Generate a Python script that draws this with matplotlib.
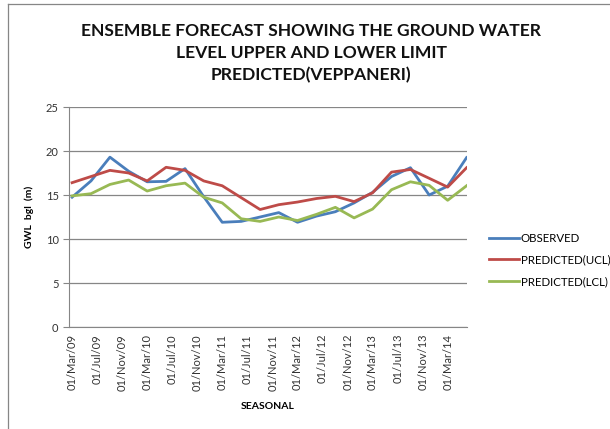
"""Ensemble forecast of ground water level (Veppaneri), Excel-style line chart"""

import pandas as pd
import matplotlib

matplotlib.use("Agg")
import matplotlib.pyplot as plt
import matplotlib.dates as mdates
from matplotlib.lines import Line2D

plt.rcParams["font.family"] = ["Lato", "DejaVu Sans"]

# seasonal readings, every 3 months from Mar 2009
dates = pd.date_range("2009-03-01", periods=22, freq="3MS")
observed = [14.75, 16.6, 19.3, 17.7, 16.5, 16.55, 18.0, 14.8, 11.9, 12.0, 12.5,
            13.0, 11.9, 12.6, 13.1, 14.1, 15.3, 17.1, 18.1, 15.0, 16.0, 19.25]
ucl = [16.4, 17.1, 17.8, 17.5, 16.6, 18.15, 17.8, 16.6, 16.05, 14.7, 13.35,
       13.9, 14.2, 14.6, 14.85, 14.25, 15.25, 17.6, 17.9, 16.9, 15.9, 18.1]
lcl = [14.9, 15.15, 16.2, 16.7, 15.45, 16.05, 16.35, 14.75, 14.1, 12.3, 12.0,
       12.5, 12.1, 12.8, 13.6, 12.4, 13.4, 15.6, 16.5, 16.1, 14.4, 16.05]

series = [
    ("OBSERVED", observed, "#4A7EBB"),
    ("PREDICTED(UCL)", ucl, "#BE4B48"),
    ("PREDICTED(LCL)", lcl, "#98B954"),
]

fig = plt.figure(figsize=(6.1, 4.29), dpi=100)
ax = fig.add_axes([69 / 610, 1 - 327 / 429, 398 / 610, 220 / 429])

for name, vals, col in series:
    ax.plot(dates, vals, color=col, lw=2.0, label=name, solid_joinstyle="round")

ax.set_ylim(0, 25)
ax.set_yticks(range(0, 26, 5))
ax.set_xlim(dates[0] - pd.Timedelta(days=15), dates[-1] + pd.Timedelta(days=2))
ax.xaxis.set_major_locator(mdates.MonthLocator(bymonth=[3, 7, 11]))
ax.xaxis.set_major_formatter(mdates.DateFormatter("%d/%b/%y"))

ax.grid(axis="y", color="#868686", lw=0.9)
ax.set_axisbelow(True)
for s in ["top", "right"]:
    ax.spines[s].set_visible(False)
for s in ["left", "bottom"]:
    ax.spines[s].set_color("#868686")
ax.tick_params(axis="y", length=4, color="#868686", labelsize=8, labelcolor="#333333")
ax.tick_params(axis="x", length=0, labelsize=8, labelcolor="#333333", rotation=90, pad=5)

ax.set_ylabel("GWL  bgl  (m)", fontsize=7.5, fontweight="bold", labelpad=8)
ax.set_xlabel("SEASONAL", fontsize=7.5, fontweight="bold", labelpad=8)

fig.text(0.51, 1 - 53 / 429,
         "ENSEMBLE FORECAST SHOWING THE GROUND WATER\nLEVEL UPPER AND LOWER LIMIT\nPREDICTED(VEPPANERI)",
         ha="center", va="center", fontsize=12.6, fontweight="bold",
         linespacing=1.45, color="#111111")

ax.legend(loc="center left", bbox_to_anchor=(479 / 610, 1 - 260 / 429),
          bbox_transform=fig.transFigure, frameon=False, fontsize=8.3,
          handlelength=2.6, handletextpad=0.1, labelspacing=0.95)

# thin border along top and left like the cropped chart frame
fig.add_artist(Line2D([8 / 610, 1], [1 - 4 / 429, 1 - 4 / 429], color="#868686", lw=0.9))
fig.add_artist(Line2D([8 / 610, 8 / 610], [0, 1 - 4 / 429], color="#868686", lw=0.9))

fig.savefig("out.png", dpi=100, facecolor="w")
